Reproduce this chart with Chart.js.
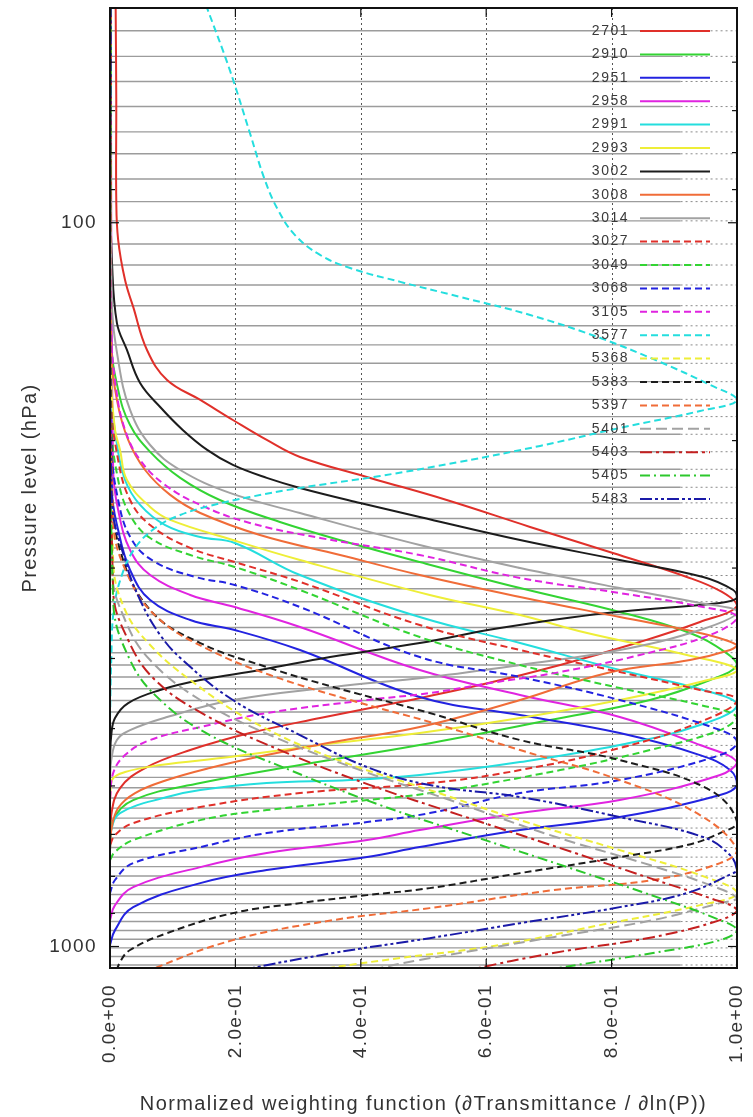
<!DOCTYPE html>
<html>
<head>
<meta charset="utf-8">
<script src="https://cdn.jsdelivr.net/npm/chart.js@4/dist/chart.umd.min.js"></script>
<style>
  html, body { margin: 0; padding: 0; background: #fff; }
  #wrap { width: 753px; height: 1117px; position: relative; }
</style>
</head>
<body>
<div id="wrap"><canvas id="wf"></canvas></div>
<script>
// Channel names, in key order
const channels = ['2701','2910','2951','2958','2991','2993','3002','3008','3014',
                  '3027','3049','3068','3105','3577','5368','5383','5397','5401',
                  '5403','5405','5483'];

// Model pressure levels (hPa)
const levels = [54.3, 58.9, 63.8, 69.1, 74.9, 80.3, 87.0, 93.5, 99.4, 107.0, 114.4,
  121.9, 130.2, 138.8, 147.5, 156.4, 165.8, 175.4, 185.3, 196.0, 207.2, 219.1, 232.0,
  243.8, 256.2, 268.8, 281.5, 294.3, 307.2, 320.4, 333.9, 347.8, 362.4, 377.4, 392.7,
  408.4, 424.3, 440.5, 457.2, 474.3, 491.6, 509.3, 527.4, 545.8, 564.7, 583.9, 603.5,
  623.5, 643.8, 664.6, 686.0, 707.7, 729.9, 752.5, 775.6, 799.1, 823.1, 847.6, 872.5,
  897.9, 923.7, 950.2, 977.1, 1004.5, 1032.3, 1060.6];

// Tick values
const xTicks = [0, 0.2, 0.4, 0.6, 0.8, 1.0];
const yTickLabels = [100, 1000];
const yMinorTicks = [60, 70, 80, 90, 200, 300, 400, 500, 600, 700, 800, 900];

// Normalized weighting functions: [weight, pressure hPa]
const ch2701 = [[0.009,50],[0.01,67.7],[0.01,93.0],[0.013,105.6],[0.024,120.0],[0.037,130.7],[0.059,149.9],[0.091,164.9],[0.144,175.7],[0.196,187.3],[0.25,199.6],[0.303,210.7],[0.415,225.2],[0.537,241.6],[0.67,263.2],[0.802,286.0],[0.92,308.6],[0.976,323.7],[1.0,338.5],[0.941,356.2],[0.845,379.6],[0.718,408.4],[0.59,435.3],[0.463,459.4],[0.335,483.4],[0.223,507.1],[0.128,535.3],[0.056,566.8],[0.016,604.1],[0.002,658.3],[0,735.9]];
const ch2910 = [[0.001,50],[0.002,145.2],[0.013,170.2],[0.032,190.3],[0.064,207.3],[0.112,225.2],[0.175,241.6],[0.271,259.1],[0.383,277.0],[0.494,294.3],[0.654,319.7],[0.813,345.0],[0.925,368.9],[0.981,391.9],[1.0,408.4],[0.957,428.4],[0.861,456.5],[0.702,486.5],[0.494,526.8],[0.303,561.4],[0.144,594.6],[0.037,627.6],[0.005,668.9],[0,724.2]];
const ch2951 = [[0.001,50],[0.003,234.0],[0.013,265.8],[0.032,301.8],[0.064,332.1],[0.128,353.9],[0.199,365.4],[0.303,389.4],[0.494,452.2],[0.654,478.9],[0.813,507.1],[0.941,543.9],[0.989,570.5],[1.0,598.4],[0.973,617.7],[0.813,662.5],[0.654,690.5],[0.494,728.9],[0.41,752.4],[0.25,784.2],[0.144,817.4],[0.037,882.3],[0.008,949.3],[0,995.2]];
const ch2958 = [[0.001,50],[0.005,219.6],[0.013,249.4],[0.032,283.2],[0.064,306.7],[0.128,326.8],[0.199,339.6],[0.303,361.9],[0.494,415.0],[0.654,449.3],[0.813,481.9],[0.941,526.8],[1.0,556.1],[0.973,579.6],[0.813,627.6],[0.654,654.1],[0.494,690.5],[0.41,712.8],[0.25,742.6],[0.144,776.8],[0.037,827.8],[0.008,876.7],[0,919.5]];
const ch2991 = [[0.001,50],[0.002,170.2],[0.01,199.6],[0.024,226.7],[0.048,245.4],[0.088,261.6],[0.144,271.8],[0.199,277.0],[0.303,306.7],[0.494,350.6],[0.654,380.8],[0.813,415.0],[0.946,442.2],[1.0,463.9],[0.941,494.3],[0.813,526.8],[0.654,556.1],[0.494,579.6],[0.383,588.9],[0.25,594.6],[0.144,608.0],[0.091,621.6],[0.016,654.1],[0.002,690.5],[0,735.9]];
const ch2993 = [[0.001,50],[0.002,164.9],[0.008,193.3],[0.016,206.0],[0.027,226.7],[0.064,247.0],[0.096,257.4],[0.196,274.4],[0.303,292.4],[0.51,326.8],[0.654,348.3],[0.761,368.9],[0.92,395.6],[1.0,415.0],[0.941,431.1],[0.813,456.5],[0.654,483.4],[0.494,507.1],[0.335,526.8],[0.191,547.3],[0.08,561.4],[0.024,574.1],[0.003,588.9],[0,627.6]];
const ch3002 = [[0.001,50],[0.001,93.0],[0.003,112.6],[0.011,137.5],[0.027,149.9],[0.048,166.5],[0.08,179.7],[0.116,193.3],[0.155,206.0],[0.196,216.1],[0.25,225.2],[0.303,232.5],[0.399,243.9],[0.494,255.0],[0.654,274.4],[0.813,292.4],[0.946,308.6],[0.994,321.7],[1.0,330.0],[0.973,335.3],[0.793,346.1],[0.622,363.1],[0.494,380.8],[0.351,398.2],[0.239,415.0],[0.144,428.4],[0.08,442.2],[0.029,460.9],[0.008,483.4],[0.002,510.3],[0,552.6]];
const ch3008 = [[0.001,50],[0.002,149.9],[0.011,175.7],[0.029,199.6],[0.056,219.6],[0.096,237.7],[0.144,251.8],[0.239,270.0],[0.367,287.8],[0.494,306.7],[0.654,328.9],[0.813,350.6],[0.941,368.9],[1.0,383.2],[0.989,389.4],[0.925,402.0],[0.793,418.8],[0.654,456.5],[0.494,497.5],[0.356,521.8],[0.25,543.9],[0.159,566.8],[0.091,588.9],[0.04,613.8],[0.013,643.8],[0.002,690.5],[0,735.9]];
const ch3014 = [[0.001,50],[0.003,127.8],[0.013,154.7],[0.032,181.4],[0.064,202.8],[0.112,219.6],[0.191,236.2],[0.303,251.8],[0.494,278.8],[0.654,299.9],[0.813,319.7],[0.941,335.3],[1.0,345.0],[0.941,365.4],[0.813,389.4],[0.654,408.4],[0.51,424.3],[0.356,438.0],[0.196,456.5],[0.091,481.9],[0.032,502.3],[0.011,518.5],[0.002,552.6],[0,588.9]];
const ch3027 = [[0.001,50],[0.002,175.7],[0.013,212.7],[0.032,241.6],[0.064,261.6],[0.128,281.4],[0.199,294.3],[0.303,313.5],[0.494,359.6],[0.654,389.4],[0.813,417.6],[0.941,442.2],[1.0,456.5],[0.941,489.6],[0.813,531.9],[0.654,570.5],[0.51,594.6],[0.303,613.8],[0.144,641.8],[0.037,675.3],[0.008,701.6],[0,724.2]];
const ch3049 = [[0.001,50],[0.002,187.3],[0.013,226.7],[0.032,253.4],[0.064,272.6],[0.128,287.8],[0.199,299.0],[0.303,321.7],[0.494,373.6],[0.654,408.4],[0.813,439.4],[0.941,463.9],[1.0,481.9],[0.973,502.3],[0.861,535.3],[0.718,570.5],[0.51,613.8],[0.41,627.6],[0.25,647.9],[0.144,668.9],[0.037,712.8],[0.008,740.0],[0,759.7]];
const ch3068 = [[0.001,50],[0.002,199.6],[0.013,241.6],[0.035,274.4],[0.072,294.3],[0.136,308.6],[0.199,316.6],[0.303,339.6],[0.494,398.2],[0.654,424.3],[0.813,456.5],[0.973,502.3],[1.0,521.8],[0.973,543.9],[0.813,588.9],[0.654,613.8],[0.51,654.1],[0.41,673.1],[0.25,697.1],[0.144,728.9],[0.037,767.0],[0.008,809.3],[0,843.8]];
const ch3105 = [[0.001,50],[0.002,140.6],[0.01,170.2],[0.024,193.3],[0.048,212.7],[0.088,230.3],[0.144,245.4],[0.223,259.9],[0.335,272.6],[0.494,287.8],[0.654,309.6],[0.813,324.8],[0.946,339.6],[1.0,350.6],[0.957,371.2],[0.845,395.6],[0.718,417.6],[0.606,432.5],[0.51,446.5],[0.41,456.5],[0.25,475.8],[0.144,497.5],[0.064,518.5],[0.024,543.9],[0.005,576.0],[0,627.6]];
const ch3577 = [[0.153,50],[0.191,61.5],[0.223,75.1],[0.247,87.3],[0.268,96.0],[0.295,104.0],[0.335,110.8],[0.383,115.5],[0.463,120.7],[0.558,126.6],[0.67,134.1],[0.781,144.2],[0.877,155.7],[0.957,167.5],[1.0,175.7],[0.941,182.0],[0.813,192.1],[0.686,203.4],[0.558,214.0],[0.431,223.8],[0.303,232.5],[0.223,239.3],[0.159,246.2],[0.112,253.4],[0.072,264.1],[0.04,281.4],[0.019,306.7],[0.006,342.8],[0.002,402.0],[0,486.5]];
const ch5368 = [[0.001,50],[0.005,292.4],[0.024,342.8],[0.064,383.2],[0.128,428.4],[0.223,486.5],[0.351,547.3],[0.51,608.0],[0.654,668.9],[0.813,735.9],[0.941,796.8],[1.0,843.8],[0.941,876.7],[0.781,934.3],[0.622,995.2],[0.463,1037.3],[0.351,1070.8],[0.287,1100]];
const ch5383 = [[0.001,50],[0.003,226.7],[0.016,283.2],[0.064,342.8],[0.144,380.8],[0.25,411.0],[0.356,438.0],[0.51,475.8],[0.654,518.5],[0.813,552.6],[0.957,608.0],[1.0,673.1],[0.973,697.1],[0.92,724.2],[0.813,752.4],[0.654,791.8],[0.51,830.5],[0.41,849.2],[0.303,871.1],[0.196,899.3],[0.091,958.4],[0.032,1011.2],[0.016,1050.6],[0.008,1100]];
const ch5397 = [[0.001,50],[0.005,257.4],[0.032,311.6],[0.08,353.9],[0.159,389.4],[0.255,421.6],[0.383,456.5],[0.51,489.6],[0.654,535.3],[0.813,588.9],[0.941,658.3],[1.0,735.9],[0.973,767.0],[0.866,809.3],[0.707,835.8],[0.51,885.1],[0.356,919.5],[0.196,980.0],[0.064,1077.6],[0.048,1100]];
const ch5401 = [[0.001,50],[0.003,301.8],[0.024,353.9],[0.064,402.0],[0.144,456.5],[0.255,510.3],[0.399,570.5],[0.542,627.6],[0.702,701.6],[0.861,771.8],[0.957,822.6],[1.0,857.3],[0.973,871.1],[0.866,919.5],[0.707,970.7],[0.494,1043.9],[0.431,1070.8],[0.383,1100]];
const ch5403 = [[0.001,50],[0.005,321.7],[0.029,377.2],[0.072,428.4],[0.152,478.9],[0.271,535.3],[0.415,598.4],[0.558,658.3],[0.718,731.2],[0.861,804.5],[0.957,857.3],[1.0,890.7],[0.973,919.5],[0.866,970.7],[0.707,1020.9],[0.574,1077.6],[0.542,1100]];
const ch5405 = [[0.001,50],[0.005,332.1],[0.032,402.0],[0.08,456.5],[0.159,510.3],[0.287,570.5],[0.431,637.7],[0.574,701.6],[0.734,779.2],[0.877,857.3],[0.965,913.7],[1.0,949.3],[0.973,980.0],[0.866,1020.9],[0.697,1077.6],[0.654,1100]];
const ch5483 = [[0.001,50],[0.003,241.6],[0.024,292.4],[0.048,332.1],[0.08,371.2],[0.116,402.0],[0.196,456.5],[0.303,510.3],[0.41,565.0],[0.51,598.4],[0.654,621.6],[0.813,662.5],[0.946,706.0],[0.989,747.7],[1.0,784.2],[0.994,791.8],[0.92,843.8],[0.813,882.3],[0.654,928.4],[0.51,973.8],[0.356,1020.9],[0.212,1077.6],[0.175,1100]];

const series = [ch2701, ch2910, ch2951, ch2958, ch2991, ch2993, ch3002, ch3008, ch3014,
                ch3027, ch3049, ch3068, ch3105, ch3577, ch5368, ch5383, ch5397, ch5401,
                ch5403, ch5405, ch5483];

// Line styles: nine colours, solid first, then dashed / dash-dot
const palette = ['#e0302a','#33d433','#2323e0','#e024e0','#24dede','#eeee38','#1c1c1c','#f06c38','#a2a2a2'];
const colors = series.map((s, i) => i < 18 ? palette[i % 9] : ['#c42020','#2cc82c','#1a1aa8'][i - 18]);
const dashes = series.map((s, i) => {
  if (i < 9) return [];
  if (i < 17) return [7, 4];
  if (i === 17) return [11, 5];
  if (i === 18) return [12, 4, 3, 4];
  if (i === 19) return [10, 4, 2, 4];
  return [12, 3, 3, 3, 3, 3];
});

const FONT = "'Liberation Sans', Arial, Helvetica, sans-serif";
const LEVEL_SOLID_END = 0.91;

// Level lines: solid part and dotted continuation, broken by gaps
const levelSolid = [], levelDotted = [];
levels.forEach(p => {
  levelSolid.push({x: 0, y: p}, {x: LEVEL_SOLID_END, y: p}, {x: 0.5, y: null});
  levelDotted.push({x: LEVEL_SOLID_END, y: p}, {x: 1, y: p}, {x: 0.95, y: null});
});

const datasets = series.map((pts, i) => ({
  label: channels[i],
  data: pts.map(([x, p]) => ({x: x, y: p})),
  borderColor: colors[i],
  borderDash: dashes[i],
  borderWidth: 2,
  tension: 0.4,
  pointRadius: 0,
  fill: false,
  order: series.length - i
}));
datasets.push({
  label: 'levels', data: levelSolid, borderColor: '#9c9c9c', borderWidth: 1.4,
  tension: 0, pointRadius: 0, spanGaps: false, order: 100
});
datasets.push({
  label: 'levels-dotted', data: levelDotted, borderColor: '#8a8a8a', borderWidth: 1,
  borderDash: [2, 3], tension: 0, pointRadius: 0, spanGaps: false, order: 101
});

function sciLabel(v) {
  if (Math.abs(v) < 1e-12) return '0.0e+00';
  const e = Math.floor(Math.log10(Math.abs(v)) + 1e-9);
  const m = v / Math.pow(10, e);
  return m.toFixed(1) + 'e' + (e < 0 ? '-' : '+') + String(Math.abs(e)).padStart(2, '0');
}

function noPad(s) {
  s.paddingTop = 0; s.paddingBottom = 0; s.paddingLeft = 0; s.paddingRight = 0;
}

const spacing = {
  id: 'spacing',
  beforeLayout(chart) { chart.ctx.letterSpacing = '1.4px'; },
  beforeDraw(chart) {
    const {ctx, width, height} = chart;
    ctx.save();
    ctx.fillStyle = '#fff';
    ctx.fillRect(0, 0, width, height);
    ctx.restore();
    ctx.letterSpacing = '1.4px';
  }
};

const gridLines = {
  id: 'gridLines',
  beforeDatasetsDraw(chart) {
    const {ctx, chartArea: a, scales: {x}} = chart;
    ctx.save();
    ctx.strokeStyle = '#555';
    ctx.lineWidth = 1;
    ctx.setLineDash([2, 3]);
    xTicks.forEach(v => {
      if (v <= 0 || v >= 1) return;
      const px = Math.round(x.getPixelForValue(v)) + 0.5;
      ctx.beginPath(); ctx.moveTo(px, a.top); ctx.lineTo(px, a.bottom); ctx.stroke();
    });
    ctx.restore();
  }
};

const keyBox = {
  id: 'keyBox',
  afterDatasetsDraw(chart) {
    const {ctx, chartArea: a} = chart;
    ctx.save();
    ctx.font = '14px ' + FONT;
    ctx.letterSpacing = '1.5px';
    ctx.textAlign = 'right';
    ctx.textBaseline = 'middle';
    channels.forEach((name, i) => {
      const ds = chart.data.datasets[i];
      const y = a.top + 23 + i * 23.4;
      ctx.fillStyle = '#3a3a3a';
      ctx.fillText(name, a.left + 519, y);
      ctx.strokeStyle = ds.borderColor;
      ctx.lineWidth = 2;
      ctx.setLineDash(ds.borderDash);
      ctx.beginPath(); ctx.moveTo(a.left + 530, y); ctx.lineTo(a.left + 600, y); ctx.stroke();
    });
    ctx.restore();
  }
};

const frame = {
  id: 'frame',
  afterDraw(chart) {
    const {ctx, chartArea: a, scales: {x, y}} = chart;
    ctx.save();
    ctx.strokeStyle = '#111';
    ctx.setLineDash([]);
    ctx.lineWidth = 1.2;
    const tick = (x1, y1, x2, y2) => { ctx.beginPath(); ctx.moveTo(x1, y1); ctx.lineTo(x2, y2); ctx.stroke(); };
    yTickLabels.forEach(v => {
      const py = y.getPixelForValue(v);
      tick(a.left, py, a.left + 9, py);
      tick(a.right, py, a.right - 9, py);
    });
    yMinorTicks.forEach(v => {
      const py = y.getPixelForValue(v);
      tick(a.left, py, a.left + 5, py);
      tick(a.right, py, a.right - 5, py);
    });
    xTicks.forEach(v => {
      const px = x.getPixelForValue(v);
      tick(px, a.bottom, px, a.bottom - 9);
      tick(px, a.top, px, a.top + 9);
    });
    ctx.lineWidth = 2;
    ctx.strokeRect(a.left, a.top, a.right - a.left, a.bottom - a.top);
    ctx.restore();
  }
};

new Chart(document.getElementById('wf'), {
  type: 'line',
  data: { datasets: datasets },
  options: {
    responsive: true,
    maintainAspectRatio: false,
    animation: false,
    events: [],
    layout: { padding: { top: 8, right: 16, left: 0, bottom: 0 } },
    plugins: { legend: { display: false }, tooltip: { enabled: false } },
    scales: {
      x: {
        type: 'linear', min: 0, max: 1,
        afterFit(s) { s.height = 149; noPad(s); },
        afterBuildTicks(s) { s.ticks = xTicks.map(v => ({value: v})); },
        grid: { display: false, drawTicks: false },
        border: { display: false },
        ticks: {
          minRotation: 90, maxRotation: 90, padding: 16, color: '#333',
          font: { family: FONT, size: 19 },
          callback: v => sciLabel(v)
        },
        title: {
          display: true,
          text: 'Normalized weighting function (\u2202Transmittance / \u2202ln(P))',
          color: '#333', font: { family: FONT, size: 20 },
          padding: { top: 0, bottom: 1 }
        }
      },
      y: {
        type: 'logarithmic', min: 50.5, max: 1070.8, reverse: true,
        afterFit(s) { s.width = 110; noPad(s); },
        afterBuildTicks(s) { s.ticks = yTickLabels.map(v => ({value: v})); },
        grid: { display: false, drawTicks: false },
        border: { display: false },
        ticks: {
          padding: 13, color: '#333',
          font: { family: FONT, size: 19 },
          callback: v => String(v)
        },
        title: {
          display: true, text: 'Pressure level (hPa)',
          color: '#333', font: { family: FONT, size: 20 },
          padding: { top: 18, bottom: 0 }
        }
      }
    }
  },
  plugins: [spacing, gridLines, keyBox, frame]
});
</script>
</body>
</html>
